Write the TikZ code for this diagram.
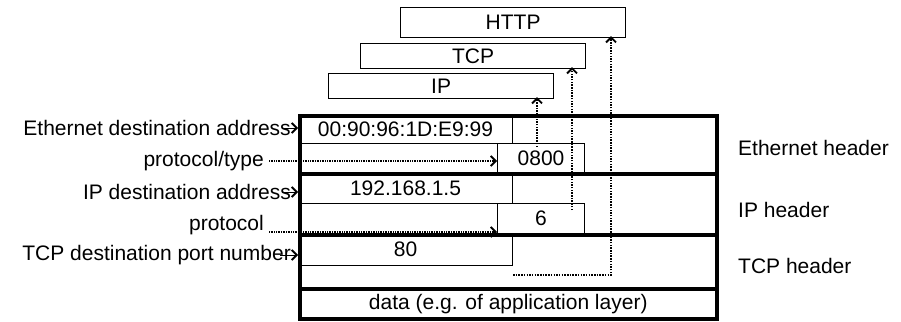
\documentclass[tikz,border=0pt]{standalone}
\usepackage{fontspec}
\setmainfont{Liberation Sans}
\usetikzlibrary{arrows.meta}
\begin{document}
\begin{tikzpicture}[x=1pt,y=-1pt,
  font=\fontsize{21}{23}\selectfont,
  sect/.style={draw,line width=3.5pt,anchor=north west,inner sep=0,minimum width=417pt},
  cell/.style={draw,line width=1pt,anchor=north west,inner sep=0},
  layer/.style={draw,line width=1.2pt,anchor=north west,inner sep=0,minimum width=225pt},
  lbl/.style={inner sep=0,anchor=east},
  rlbl/.style={inner sep=0,anchor=west},
  tip/.style={-{Straight Barb[length=5pt,width=10pt,line width=1.8pt]}},
  link/.style={tip,line width=2.6pt,dash pattern=on 1.5pt off 1.2pt},
  ptr/.style={tip,line width=1pt},
  dptr/.style={tip,line width=1.3pt,dash pattern=on 1pt off 0.7pt}]
\useasboundingbox (0,0) rectangle (901,321);
% header sections
\node[sect,minimum height=58pt] (eth) at (298,114) {};
\node[sect,minimum height=61pt] (iph) at (298,172) {};
\node[sect,minimum height=54pt] (tcph) at (298,233) {};
\node[sect,minimum height=30pt] (data) at (298,287) {data (e.g. of application layer)};
% fields
\node[cell,minimum width=214pt,minimum height=29pt] (ethaddr) at (298,114) {00:90:96:1D:E9:99};
\node[cell,minimum width=87pt,minimum height=29pt] (ethtype) at (497,143) {0800};
\node[cell,minimum width=214pt,minimum height=31pt] (ipaddr) at (298,172) {192.168.1.5};
\node[cell,minimum width=87pt,minimum height=30pt] (ipproto) at (497,203) {6};
\node[cell,minimum width=214pt,minimum height=32pt] (tcpport) at (298,233) {80};
% layers
\node[layer,minimum height=30pt] (http) at (400,7) {HTTP};
\node[layer,minimum height=25pt] (tcp) at (360,43) {TCP};
\node[layer,minimum height=25pt] (ip) at (328,73) {IP};
% right labels
\node[rlbl] (lethh) at (738,148) {Ethernet header};
\node[rlbl] (liph) at (738,210) {IP header};
\node[rlbl] (ltcph) at (738,266) {TCP header};
% left labels
\node[lbl] (lethd) at (291,128) {Ethernet destination address};
\node[lbl] (lptype) at (264,161) {protocol/type};
\node[lbl] (lipd) at (291,192) {IP destination address};
\node[lbl] (lproto) at (264,225) {protocol};
\node[lbl] (ltcpd) at (291,255) {TCP destination port number};
% left pointers
\draw[ptr] ([xshift=-9pt]lethd.east) -- (lethd.east -| eth.west);
\draw[ptr] ([xshift=-9pt]lipd.east) -- (lipd.east -| iph.west);
\draw[ptr] ([xshift=-11pt]ltcpd.east) -- (ltcpd.east -| tcph.west);
\draw[dptr] ([xshift=5pt]lptype.east) -- (lptype.east -| ethtype.west);
\draw[dptr] ([xshift=5pt,yshift=-7pt]lproto.east) -- ([yshift=-7pt]lproto.east -| ipproto.west);
% links to upper layers
\coordinate (a1) at (537,147);
\coordinate (a2) at (572,210);
\coordinate (a3) at ([yshift=-9pt]tcpport.south east);
\draw[link] (a1) -- ([yshift=2pt]a1 |- ip.south);
\draw[link] (a2) -- ([yshift=2pt]a2 |- tcp.south);
\draw[link] (a3) -- ++(98,0) coordinate (a4) -- ([yshift=2pt]a4 |- http.south);
\end{tikzpicture}
\end{document}
